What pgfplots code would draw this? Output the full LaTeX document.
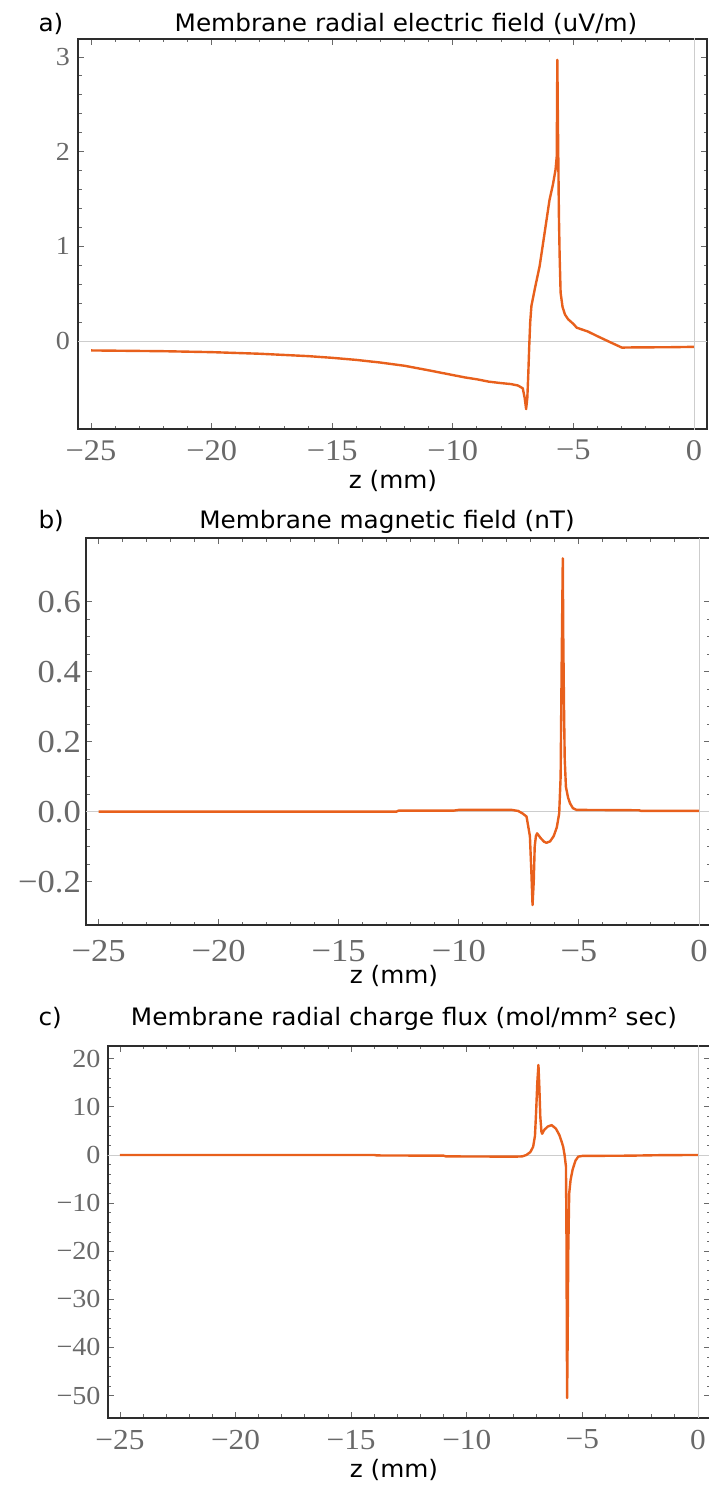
\documentclass[border=0pt]{standalone}
\usepackage{pgfplots}
\pgfplotsset{compat=1.18}
\usepackage{fontspec}
\setmainfont[FakeStretch=1.03]{DejaVu Sans}
\newfontfamily\tickfont[FakeStretch=1.08]{Liberation Serif}
\definecolor{curve}{RGB}{232,96,28}
\definecolor{tickgray}{RGB}{105,105,105}
\definecolor{framecol}{RGB}{45,45,45}
\definecolor{zerocol}{RGB}{205,205,205}
\pgfplotsset{
  mma/.style={
    scale only axis,
    anchor=south west,
    axis line style={draw=framecol, line width=1.8pt},
    tick align=inside,
    major tick length=6pt,
    minor tick length=3.5pt,
    tick style={tickgray, line width=0.9pt},
    xtick={-25,-20,-15,-10,-5,0},
    minor x tick num=4,
    xticklabels={−25,−20,−15,−10,−5,0},
    ticklabel style={text=tickgray, inner sep=0pt},
    clip=true,
  },
  curvestyle/.style={curve, line width=2.4pt, line join=round},
}
\newcommand\ttl{\fontsize{24}{28}\selectfont}
\begin{document}
\begin{tikzpicture}
\useasboundingbox (0,0) rectangle (709pt,-1486pt);
% ---------- a) ----------
\node[anchor=base west, font=\ttl] at (35pt,-31pt) {a)};
\node[anchor=base, font=\ttl] at (406pt,-31pt) {Membrane radial electric field (uV/m)};
\node[anchor=base, font=\ttl] at (393pt,-488pt) {z (mm)};
\begin{axis}[mma,
  at={(78pt,-429pt)}, width=629pt, height=390pt,
  xmin=-25.54, xmax=0.54, ymin=-0.93, ymax=3.19,
  ytick={0,1,2,3}, minor y tick num=4,
  yticklabels={0,1,2,3},
  xticklabel style={font=\tickfont\fontsize{30}{30}\selectfont, anchor=north, yshift=-11pt},
  yticklabel style={font=\tickfont\fontsize{26}{26}\selectfont, anchor=east, xshift=-8pt},
]
\draw[zerocol, line width=0.9pt] (axis cs:-26,0) -- (axis cs:1,0);
\draw[zerocol, line width=0.9pt] (axis cs:0,-1) -- (axis cs:0,3.3);
\addplot[curvestyle] coordinates {
(-25,-0.100) (-22,-0.108) (-20,-0.118) (-18,-0.135) (-16,-0.160) (-15,-0.178)
(-14,-0.200) (-13,-0.228) (-12,-0.262) (-11,-0.310) (-10,-0.360) (-9.5,-0.385)
(-9,-0.405) (-8.5,-0.43) (-8,-0.445) (-7.6,-0.455) (-7.3,-0.47) (-7.1,-0.50)
(-7.02,-0.60) (-6.96,-0.72) (-6.91,-0.60) (-6.87,-0.35) (-6.83,-0.05) (-6.79,0.20)
(-6.74,0.37) (-6.6,0.55) (-6.4,0.79) (-6.2,1.13) (-5.99,1.49) (-5.85,1.65)
(-5.74,1.81) (-5.69,1.95) (-5.675,2.6) (-5.665,2.97) (-5.645,2.4) (-5.62,1.8)
(-5.6,1.32) (-5.57,0.9) (-5.53,0.51) (-5.45,0.36) (-5.35,0.28) (-5.22,0.23)
(-5.0,0.18) (-4.86,0.14) (-4.4,0.10) (-4.0,0.05) (-3.5,-0.01) (-2.99,-0.07)
(-2.5,-0.068) (-1.0,-0.066) (0,-0.062)
};
\end{axis}
% ---------- b) ----------
\node[anchor=base west, font=\ttl] at (35pt,-528pt) {b)};
\node[anchor=base, font=\ttl] at (387pt,-528pt) {Membrane magnetic field (nT)};
\node[anchor=base, font=\ttl] at (394pt,-983pt) {z (mm)};
\begin{axis}[mma,
  at={(86pt,-925pt)}, width=624pt, height=387pt,
  xmin=-25.525, xmax=0.46, ymin=-0.324, ymax=0.782,
  ytick={-0.2,0,0.2,0.4,0.6}, minor y tick num=3,
  yticklabels={−0.2,0.0,0.2,0.4,0.6},
  xticklabel style={font=\tickfont\fontsize{32}{32}\selectfont, anchor=north, yshift=-15pt},
  yticklabel style={font=\tickfont\fontsize{32}{32}\selectfont, anchor=east, xshift=-5pt},
]
\draw[zerocol, line width=0.9pt] (axis cs:-26,0) -- (axis cs:1,0);
\draw[zerocol, line width=0.9pt] (axis cs:0,-0.4) -- (axis cs:0,0.9);
\addplot[curvestyle] coordinates {
(-25,0) (-12.6,0) (-12.5,0.003) (-10.2,0.003) (-10,0.005) (-7.8,0.005)
(-7.53,0.002) (-7.35,-0.005) (-7.18,-0.014) (-7.04,-0.07) (-6.98,-0.17)
(-6.93,-0.267) (-6.88,-0.20) (-6.84,-0.10) (-6.79,-0.07) (-6.74,-0.062)
(-6.6,-0.075) (-6.45,-0.086) (-6.35,-0.089) (-6.2,-0.085) (-6.05,-0.07)
(-5.92,-0.045) (-5.82,-0.005) (-5.76,0.1) (-5.72,0.4) (-5.69,0.6) (-5.67,0.724)
(-5.65,0.5) (-5.62,0.3) (-5.59,0.15) (-5.54,0.071) (-5.45,0.04) (-5.37,0.024)
(-5.25,0.01) (-5.1,0.005) (-2.5,0.004) (-2.4,0.002) (0,0.002)
};
\end{axis}
% ---------- c) ----------
\node[anchor=base west, font=\ttl] at (35pt,-1025pt) {c)};
\node[anchor=base, font=\ttl] at (404pt,-1025pt) {Membrane radial charge flux (mol/mm² sec)};
\node[anchor=base, font=\ttl] at (394pt,-1477pt) {z (mm)};
\begin{axis}[mma,
  at={(107.7pt,-1417.7pt)}, width=602.3pt, height=372pt,
  xmin=-25.53, xmax=0.52, ymin=-54.6, ymax=22.7,
  ytick={-50,-40,-30,-20,-10,0,10,20}, minor y tick num=4,
  yticklabels={−50,−40,−30,−20,−10,0,10,20},
  xticklabel style={font=\tickfont\fontsize{29}{29}\selectfont, anchor=north, yshift=-12pt},
  yticklabel style={font=\tickfont\fontsize{26}{26}\selectfont, anchor=east, xshift=-7pt},
]
\draw[zerocol, line width=0.9pt] (axis cs:-26,0) -- (axis cs:1,0);
\draw[zerocol, line width=0.9pt] (axis cs:0,-60) -- (axis cs:0,25);
\addplot[curvestyle] coordinates {
(-25,0) (-14,0) (-13.9,-0.1) (-11,-0.15) (-10.9,-0.3) (-7.9,-0.35) (-7.6,-0.3)
(-7.42,0) (-7.25,0.6) (-7.13,1.7) (-7.05,4) (-7.0,9) (-6.95,15) (-6.90,18.7)
(-6.86,14) (-6.82,8) (-6.77,4.8) (-6.74,4.4) (-6.65,5.2) (-6.5,5.9) (-6.33,6.2)
(-6.15,5.5) (-6.0,4.2) (-5.9,2.8) (-5.83,1.7) (-5.77,0) (-5.71,-2.4) (-5.69,-15)
(-5.67,-40) (-5.66,-50.5) (-5.64,-40) (-5.61,-20) (-5.57,-8) (-5.51,-5.2)
(-5.42,-3) (-5.3,-1.2) (-5.18,-0.35) (-5.0,-0.2) (-3,-0.15) (-1.7,-0.05) (0,0)
};
\end{axis}
\end{tikzpicture}
\end{document}
